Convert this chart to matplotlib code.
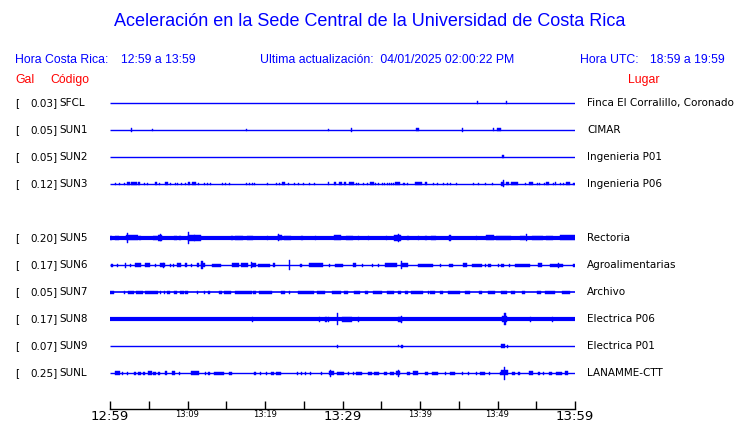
import matplotlib
matplotlib.use("Agg")
import matplotlib.pyplot as plt

# estaciones (de arriba hacia abajo); SUN4 no tiene registro
codes = ["SFCL", "SUN1", "SUN2", "SUN3", "SUN4", "SUN5", "SUN6", "SUN7", "SUN8", "SUN9", "SUNL"]
gal = [0.03, 0.05, 0.05, 0.12, None, 0.20, 0.17, 0.05, 0.17, 0.07, 0.25]
places = ["Finca El Corralillo, Coronado", "CIMAR", "Ingenieria P01", "Ingenieria P06", None,
          "Rectoria", "Agroalimentarias", "Archivo", "Electrica P06", "Electrica P01", "LANAMME-CTT"]

# rafagas: (minuto inicio, minuto fin, amplitud)
bursts = {
    "SFCL": [(47.4, 47.4, 1.5), (51.1, 51.1, 1.5)],
    "SUN1": [(2.67, 2.67, 2), (5.46, 5.46, 1), (17.5, 17.5, 1), (28.1, 28.1, 1), (31.1, 31.1, 2),
             (39.5, 39.9, 1.5), (45.4, 45.4, 2), (49.4, 49.6, 1.5), (49.9, 50.5, 1.5)],
    "SUN2": [(50.6, 50.9, 1.5)],
    "SUN3": [(0.69, 0.69, 1), (1.2, 1.2, 1), (1.85, 1.85, 1), (2.15, 2.58, 1.5), (2.75, 3.44, 1.5),
             (3.57, 3.83, 1.5), (4.34, 4.34, 1), (4.82, 4.82, 1), (5.85, 6.06, 1.5), (6.32, 6.32, 1),
             (7.14, 7.53, 1.5), (7.74, 7.74, 1), (8.39, 8.39, 1), (8.69, 8.69, 1), (9.16, 9.16, 1),
             (9.68, 9.68, 1), (10.1, 10.3, 1.5), (10.6, 11.05, 1.5), (11.4, 11.4, 1), (12.1, 12.1, 1),
             (12.5, 12.5, 1), (12.9, 12.9, 1), (14.4, 14.4, 1), (14.8, 14.8, 1), (15.3, 15.3, 1),
             (17.5, 17.5, 1), (17.9, 17.9, 1), (18.3, 18.3, 1), (18.6, 18.6, 1), (20.2, 20.2, 1),
             (21.4, 21.4, 1), (21.8, 21.8, 1), (22.2, 22.6, 1.5), (23.0, 23.0, 1), (23.7, 23.7, 1),
             (24.2, 24.2, 1), (24.9, 24.9, 1), (25.7, 25.7, 1), (26.3, 26.3, 1), (28.1, 28.3, 1.5),
             (28.9, 29.2, 1.5), (29.5, 29.9, 1.5), (30.2, 30.5, 1.5), (30.8, 31.5, 1.5), (31.7, 31.7, 1),
             (32.0, 32.0, 1), (32.6, 32.6, 1), (33.2, 33.2, 1), (33.6, 34.0, 1.5), (34.2, 34.2, 1),
             (34.6, 34.6, 1), (35.1, 35.1, 1), (35.3, 35.3, 1), (35.7, 35.7, 1), (36.0, 36.0, 1),
             (36.2, 36.2, 1), (36.5, 36.5, 1), (36.8, 37.4, 1.5), (37.8, 37.8, 1), (37.9, 37.9, 1),
             (38.3, 38.3, 1), (39.4, 40.3, 1.5), (40.6, 40.9, 1.5), (41.7, 41.7, 1), (42.2, 42.2, 1),
             (43.0, 43.0, 1), (43.5, 43.5, 1), (43.9, 43.9, 1), (44.6, 44.6, 1), (46.8, 46.8, 1),
             (47.5, 47.5, 1), (48.4, 48.4, 1), (49.3, 49.3, 1), (50.4, 50.9, 2), (50.65, 50.65, 3.5),
             (51.1, 51.5, 1.5), (51.7, 52.6, 1.5), (53.5, 53.5, 1), (54.0, 54.6, 1.5), (55.1, 55.1, 1),
             (55.4, 55.4, 1), (56.0, 56.0, 1), (56.3, 56.7, 1.5), (57.2, 57.2, 1), (57.4, 57.6, 1.5),
             (58.1, 58.1, 1), (58.5, 58.5, 1), (58.9, 59.4, 1.5), (59.8, 59.8, 1)],
    "SUN4": [],
    "SUN5": [(0.0, 0.3, 2.3), (0.65, 1.16, 2.3), (2.0, 3.6, 2.5), (2.2, 2.2, 4.7), (3.8, 3.8, 2.3),
             (5.6, 6.0, 2.3), (6.15, 6.7, 2.8), (6.5, 6.5, 3.5), (8.3, 8.7, 2.3), (8.9, 9.2, 2.3),
             (10.0, 10.0, 6), (10.1, 11.7, 2.8), (10.8, 10.8, 3.3), (15.6, 15.9, 2.3), (16.1, 17.1, 2.3),
             (17.7, 18.4, 2.3), (20.2, 20.2, 2.3), (21.7, 22.2, 2.5), (21.7, 21.7, 3.5), (22.5, 23.3, 2.3),
             (24.6, 24.9, 2.3), (26.4, 26.4, 2.3), (28.9, 29.8, 2.5), (30.4, 31.4, 2.3), (32.0, 32.0, 2.3),
             (33.3, 33.3, 2.3), (35.6, 35.6, 2.3), (36.7, 37.5, 2.8), (37.1, 37.1, 4), (38.3, 38.6, 2.3),
             (39.7, 39.9, 2.3), (40.6, 40.9, 2.3), (41.4, 42.1, 2.3), (43.8, 43.8, 3), (47.2, 47.2, 2.3),
             (48.5, 49.5, 2.5), (49.8, 51.7, 2.3), (52.9, 53.5, 2.3), (53.7, 53.7, 3.5), (54.4, 55.9, 2.3),
             (56.2, 57.2, 2.3), (58.1, 60.0, 2.5)],
    "SUN6": [(0.1, 0.4, 1.5), (0.86, 0.86, 1.5), (1.9, 1.9, 2.5), (2.6, 2.6, 1.5), (3.2, 4.0, 1.8),
             (4.5, 5.2, 1.8), (5.8, 5.8, 1.5), (6.45, 7.1, 1.8), (6.8, 6.8, 2.5), (7.7, 7.7, 1.5),
             (8.1, 8.1, 1.5), (8.6, 9.2, 1.8), (9.7, 9.9, 1.8), (10.4, 10.4, 1.5), (11.2, 11.5, 1.8),
             (11.8, 11.8, 4), (11.7, 12.3, 2), (13.2, 14.3, 1.5), (15.8, 16.6, 1.8), (16.9, 17.8, 1.8),
             (18.2, 18.2, 3), (18.3, 18.8, 2), (19.1, 20.6, 1.5), (21.0, 21.3, 1.8), (23.1, 23.1, 5),
             (24.5, 24.8, 1.5), (25.7, 27.5, 1.8), (28.2, 28.2, 1.5), (29.0, 30.1, 1.5), (31.4, 31.7, 1.8),
             (32.5, 32.5, 1.5), (33.8, 33.8, 1.5), (34.6, 34.6, 1.5), (35.5, 37.0, 1.8), (37.5, 37.5, 4),
             (37.6, 38.5, 1.8), (39.8, 41.7, 1.5), (42.6, 42.6, 1.5), (43.7, 44.3, 1.5), (45.6, 46.0, 1.8),
             (46.7, 48.0, 1.5), (48.4, 48.4, 1.5), (48.8, 49.2, 1.5), (50.1, 50.1, 1.5), (50.5, 50.8, 1.5),
             (51.5, 51.5, 1.5), (52.3, 54.2, 1.5), (55.2, 55.8, 1.8), (56.8, 58.5, 1.5), (57.8, 57.8, 2.5),
             (59.8, 59.8, 1.5)],
    "SUN7": [(0.0, 0.5, 1.5), (1.85, 1.85, 1.5), (2.3, 3.1, 1.5), (3.4, 4.3, 1.5), (4.5, 6.15, 1.5),
             (6.45, 6.45, 1.5), (7.0, 7.0, 1.5), (7.3, 7.7, 1.5), (8.2, 8.6, 1.5), (9.0, 9.5, 1.5),
             (9.7, 10.1, 1.5), (11.2, 11.2, 1.5), (12.1, 12.1, 1.5), (12.7, 12.7, 1.5), (14.0, 14.4, 1.5),
             (14.75, 15.6, 1.5), (16.1, 18.3, 1.5), (18.5, 18.9, 1.5), (19.2, 20.9, 1.5), (22.1, 22.6, 1.5),
             (23.1, 23.1, 1.5), (24.2, 26.3, 1.5), (26.75, 27.7, 1.5), (28.6, 29.8, 1.5), (30.2, 30.75, 1.5),
             (31.5, 32.3, 1.5), (32.9, 33.3, 1.5), (33.9, 35.1, 1.5), (35.7, 36.6, 1.5), (37.2, 37.5, 1.5),
             (38.1, 38.5, 1.5), (38.8, 40.4, 1.5), (41.0, 41.0, 1.5), (41.3, 41.9, 1.5), (42.6, 43.0, 1.5),
             (43.6, 45.2, 1.5), (45.8, 46.5, 1.5), (47.6, 48.0, 1.5), (48.8, 49.7, 1.5), (50.4, 51.2, 1.5),
             (51.7, 52.3, 1.5), (53.1, 53.6, 1.5), (55.1, 55.6, 1.5), (56.1, 57.4, 1.5), (58.3, 59.35, 1.5)],
    "SUN8": [(18.3, 18.3, 2.5), (27.0, 27.0, 2.5), (27.8, 27.8, 2.5), (28.1, 28.1, 2.5), (29.3, 29.3, 6),
             (29.9, 31.2, 2.5), (32.0, 32.0, 2.5), (37.2, 37.7, 2.5), (37.5, 37.5, 3.5), (50.6, 51.2, 3),
             (50.9, 50.9, 6), (54.2, 54.2, 2.5), (57.0, 57.0, 2.5)],
    "SUN9": [(29.3, 29.3, 1.5), (37.1, 37.1, 1), (37.6, 37.6, 1.5), (50.4, 51.0, 2), (51.2, 51.2, 1.5)],
    "SUNL": [(0.65, 1.3, 1.8), (1.5, 1.5, 1.5), (2.2, 2.2, 1.5), (3.1, 3.3, 1.5), (3.65, 4.0, 1.5),
             (4.2, 4.5, 1.5), (4.9, 5.4, 1.8), (5.6, 5.9, 1.5), (6.2, 6.45, 1.5), (7.1, 7.4, 1.8),
             (7.96, 8.4, 1.8), (8.9, 8.9, 1.5), (10.45, 11.5, 1.8), (12.3, 12.3, 1.5), (12.7, 12.7, 1.5),
             (13.4, 14.75, 1.5), (15.4, 15.8, 1.5), (18.6, 18.8, 1.5), (19.4, 19.4, 1.5), (20.1, 20.1, 1.5),
             (20.8, 21.1, 1.5), (21.4, 22.1, 1.5), (24.1, 24.1, 1.5), (24.6, 24.6, 1.5), (25.2, 25.2, 1.5),
             (25.8, 25.8, 1.5), (27.2, 27.2, 1.5), (28.3, 28.9, 1.8), (28.4, 28.4, 3.5), (29.3, 30.2, 1.5),
             (30.75, 30.75, 1.5), (31.4, 31.4, 1.5), (31.8, 32.5, 1.5), (33.3, 33.8, 1.5), (34.0, 34.7, 1.5),
             (35.3, 35.7, 1.5), (36.1, 36.7, 1.5), (36.9, 37.4, 1.8), (37.1, 37.1, 3.5), (38.3, 38.7, 1.5),
             (39.1, 39.8, 1.8), (40.6, 41.0, 1.5), (41.5, 42.3, 1.5), (43.2, 43.2, 1.5), (43.9, 44.5, 1.5),
             (45.4, 45.4, 1.5), (46.15, 46.15, 1.5), (47.2, 47.2, 1.5), (47.7, 48.4, 1.5), (48.9, 48.9, 1.5),
             (50.3, 50.3, 1.5), (50.5, 51.4, 2.5), (50.8, 50.8, 6.5), (51.9, 52.3, 1.5), (52.7, 52.7, 1.5),
             (54.0, 54.6, 1.8), (55.2, 55.5, 1.5), (55.9, 55.9, 1.5), (56.6, 57.0, 1.5), (57.6, 58.3, 1.5),
             (58.65, 59.1, 1.8)],
}

tick_minutes = list(range(0, 61, 5))
tick_labels = ["12:59", "", "13:09", "", "13:19", "", "13:29", "", "13:39", "", "13:49", "", "13:59"]

# estilo del trazo base (grosor en pt)
base_lw = {"SFCL": 1.0, "SUN1": 1.0, "SUN2": 1.0, "SUN3": 1.0, "SUN5": 3.0, "SUN6": 1.0,
           "SUN7": 1.2, "SUN8": 3.0, "SUN9": 1.0, "SUNL": 1.0}

BLUE = "#0000ff"
RED = "#ff0000"
W, H = 740, 423

fig = plt.figure(figsize=(W / 100, H / 100), dpi=100)
ax = fig.add_axes([110 / W, 1 - 409 / H, 465 / W, (409 - 90) / H])

amp_scale = 1 / 27.0
spike_w = 60 / 465 * 1.1
for row, code in enumerate(codes):
    if code not in base_lw:
        continue
    ax.hlines(row, 0, 60, color=BLUE, lw=base_lw[code])
    for t0, t1, a in bursts[code]:
        h = a * amp_scale
        ax.bar(t0, 2 * h, width=max(t1 - t0, spike_w), bottom=row - h, align="edge",
               color=BLUE, edgecolor=BLUE, linewidth=0.3)

ax.set_xlim(0, 60)
ax.set_ylim((409 - 103) / 27, (90 - 103) / 27)
for s in ["top", "left", "right"]:
    ax.spines[s].set_visible(False)
ax.spines["bottom"].set_linewidth(1)
ax.set_yticks([])
ax.set_xticks(tick_minutes)
ax.set_xticklabels(tick_labels)
ax.tick_params(axis="x", direction="in", length=6, width=1, pad=0.5)
for m, lab in zip(tick_minutes, ax.get_xticklabels()):
    lab.set_family("DejaVu Sans")
    if m % 30 == 0:
        lab.set_fontsize(9.5)
    else:
        lab.set_fontsize(6)


def px(x, y):
    return x / W, 1 - y / H


hdr = dict(family="Liberation Sans", fontsize=8.8, color=BLUE, va="center")
fig.text(*px(370, 22), "Aceleración en la Sede Central de la Universidad de Costa Rica",
         family="Liberation Sans", fontsize=13, color=BLUE, ha="center", va="center")
fig.text(*px(15, 60), "Hora Costa Rica:", **hdr)
fig.text(*px(121, 60), "12:59 a 13:59", **hdr)
fig.text(*px(260, 60), "Ultima actualización:  04/01/2025 02:00:22 PM", **hdr)
fig.text(*px(580, 60), "Hora UTC:", **hdr)
fig.text(*px(650, 60), "18:59 a 19:59", **hdr)
red = dict(family="Liberation Sans", fontsize=8.8, color=RED, va="center")
fig.text(*px(15, 80), "Gal", **red)
fig.text(*px(50, 80), "Código", **red)
fig.text(*px(628, 80), "Lugar", **red)

lab = dict(family="DejaVu Sans", fontsize=7.45, color="black", va="center")
for row, code in enumerate(codes):
    if gal[row] is None:
        continue
    y = 103 + 27 * row
    fig.text(*px(15, y), "[", **lab)
    fig.text(*px(57.5, y), f"{gal[row]:.2f}]", ha="right", **lab)
    fig.text(*px(59, y), code, **lab)
    fig.text(*px(587, y), places[row], **lab)

fig.savefig("out.png", dpi=100)
